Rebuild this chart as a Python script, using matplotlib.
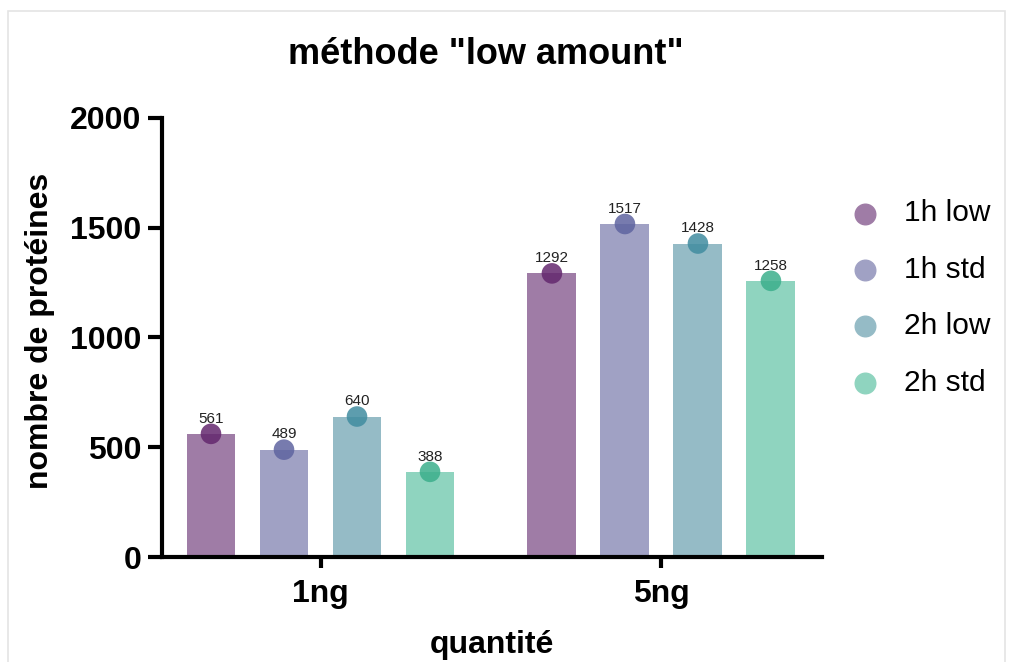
import matplotlib.pyplot as plt
from matplotlib.patches import Rectangle
import numpy as np

plt.rcParams['font.family'] = ['Liberation Sans', 'DejaVu Sans']

# data
groups = ['1ng', '5ng']
series = ['1h low', '1h std', '2h low', '2h std']
values = {
    '1h low': [561, 1292],
    '1h std': [489, 1517],
    '2h low': [640, 1428],
    '2h std': [388, 1258],
}
bar_colors = ['#9f7ca6', '#a0a1c4', '#95bbc6', '#8fd4bf']
dot_colors = ['#64286e', '#5f64a0', '#418ca0', '#3caf8c']

group_gap = 4.67
bar_w = 0.67

fig = plt.figure(figsize=(10.13, 6.62), dpi=100)
fig.patches.append(Rectangle((8 / 1013, -0.1), 997 / 1013, 1.1 - 11 / 662,
                             transform=fig.transFigure, fill=False,
                             edgecolor='#e4e4e4', linewidth=1.2))
ax = fig.add_axes([0.16, 0.1586, 0.6515, 0.6632])

centers = np.arange(len(groups)) * group_gap
for i, s in enumerate(series):
    xs = centers + (i - 1.5)
    ax.bar(xs, values[s], width=bar_w, color=bar_colors[i], zorder=2)
    ax.scatter(xs, values[s], s=220, color=dot_colors[i], alpha=0.85,
               edgecolors='none', zorder=3)
    # legend proxy
    ax.scatter([], [], s=220, color=bar_colors[i], label=s)
    for x, v in zip(xs, values[s]):
        ax.annotate(str(v), (x, v), xytext=(0, 6), textcoords='offset points',
                    ha='center', va='bottom', fontsize=11, color='#222222')

ax.set_xlim(-2.17, 6.87)
ax.set_ylim(0, 2000)
ax.set_yticks([0, 500, 1000, 1500, 2000])
ax.set_xticks(centers)
ax.set_xticklabels(groups)

for side in ['top', 'right']:
    ax.spines[side].set_visible(False)
for side in ['left', 'bottom']:
    ax.spines[side].set_linewidth(3)
    ax.spines[side].set_capstyle('projecting')

ax.tick_params(axis='y', length=10, width=3, labelsize=23, pad=5)
ax.tick_params(axis='x', length=8, width=3, labelsize=23, pad=8)
for lab in ax.get_xticklabels() + ax.get_yticklabels():
    lab.set_fontweight('bold')

ax.set_ylabel('nombre de protéines', fontsize=23, fontweight='bold',
              va='center')
ax.yaxis.set_label_coords(-0.185, 0.515)
ax.set_xlabel('quantité', fontsize=23, fontweight='bold', va='center')
ax.xaxis.set_label_coords(0.5, -0.2)
fig.text(0.48, 0.918, 'méthode "low amount"', fontsize=26, fontweight='bold',
         ha='center', va='center')

ax.legend(loc='center left', bbox_to_anchor=(1.02, 0.59), frameon=False,
          fontsize=21.5, handletextpad=0.3, labelspacing=0.95, borderpad=0,
          borderaxespad=0)

fig.savefig('out.png', dpi=100)
